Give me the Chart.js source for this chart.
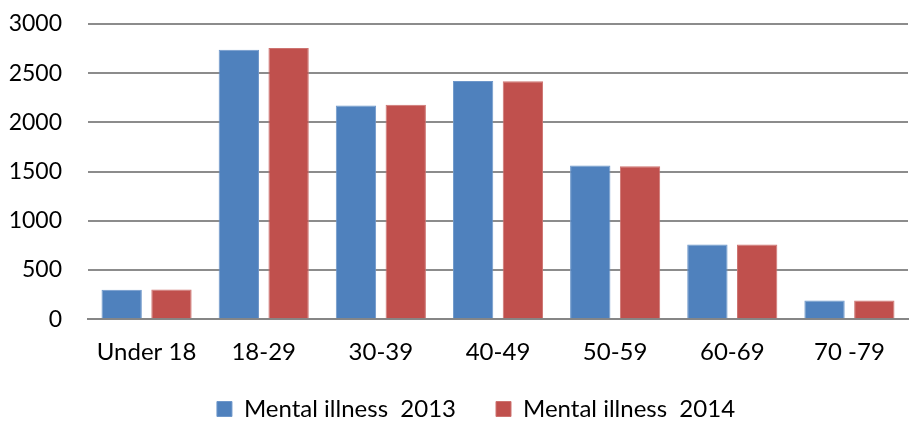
<!DOCTYPE html>
<html>
<head>
<meta charset="utf-8">
<script src="https://cdn.jsdelivr.net/npm/chart.js@4"></script>
<style>
  html, body { margin: 0; padding: 0; background: #fff; }
  #wrap { width: 912px; height: 424px; }
</style>
</head>
<body>
<div id="wrap"><canvas id="mentalChart" width="912" height="424"></canvas></div>
<script>
const ageGroups = ["Under 18", "18-29", "30-39", "40-49", "50-59", "60-69", "70 -79"];
const illness2013 = [300, 2738, 2173, 2422, 1561, 758, 190];
const illness2014 = [303, 2755, 2180, 2418, 1554, 758, 190];
const yTicks = [0, 500, 1000, 1500, 2000, 2500, 3000];

const fontFamily = "Lato, 'Open Sans', sans-serif";
const labelFont = { family: fontFamily, size: 24 };
const yFont = { family: fontFamily, size: 23 };

// nudge the legend right and up, like the original
const legendShift = {
    id: 'legendShift',
    afterLayout(chart) {
        const lg = chart.legend;
        if (!lg) return;
        lg.left += 22;
        lg.right += 22;
        lg.top -= 21;
        lg.bottom -= 21;
    }
};

const ctx = document.getElementById("mentalChart").getContext("2d");

new Chart(ctx, {
    type: 'bar',
    data: {
        labels: ageGroups,
        datasets: [
            {
                label: "Mental illness  2013",
                data: illness2013,
                backgroundColor: "#4F81BD",
                borderColor: "#6E97CA",
                borderWidth: 1
            },
            {
                label: "Mental illness  2014",
                data: illness2014,
                backgroundColor: "#C0504D",
                borderColor: "#CD7370",
                borderWidth: 1
            }
        ]
    },
    options: {
        responsive: false,
        animation: false,
        layout: { padding: { top: 0, right: 4, left: 0, bottom: -28 } },
        datasets: {
            bar: { categoryPercentage: 0.85, barPercentage: 0.81 }
        },
        scales: {
            x: {
                grid: { display: false },
                border: { display: true, color: "#868686", width: 2 },
                ticks: { color: "#000", font: labelFont, padding: 11, maxRotation: 0 }
            },
            y: {
                min: 0,
                max: 3000,
                afterBuildTicks: function(axis) {
                    axis.ticks = yTicks.map(v => ({ value: v }));
                },
                afterFit: function(axis) {
                    axis.width = 88;
                    axis.paddingTop = 24;
                    axis.paddingBottom = 0;
                },
                grid: { color: "#8C8C8C", lineWidth: 2, drawTicks: false },
                border: { display: false },
                ticks: {
                    color: "#000",
                    font: yFont,
                    padding: 26,
                    callback: function(value) { return String(value); }
                }
            }
        },
        plugins: {
            legend: {
                position: 'bottom',
                labels: {
                    color: "#000",
                    font: labelFont,
                    boxWidth: 15,
                    boxHeight: 15,
                    padding: 40
                }
            },
            tooltip: { enabled: false }
        }
    },
    plugins: [legendShift]
});
</script>
</body>
</html>
